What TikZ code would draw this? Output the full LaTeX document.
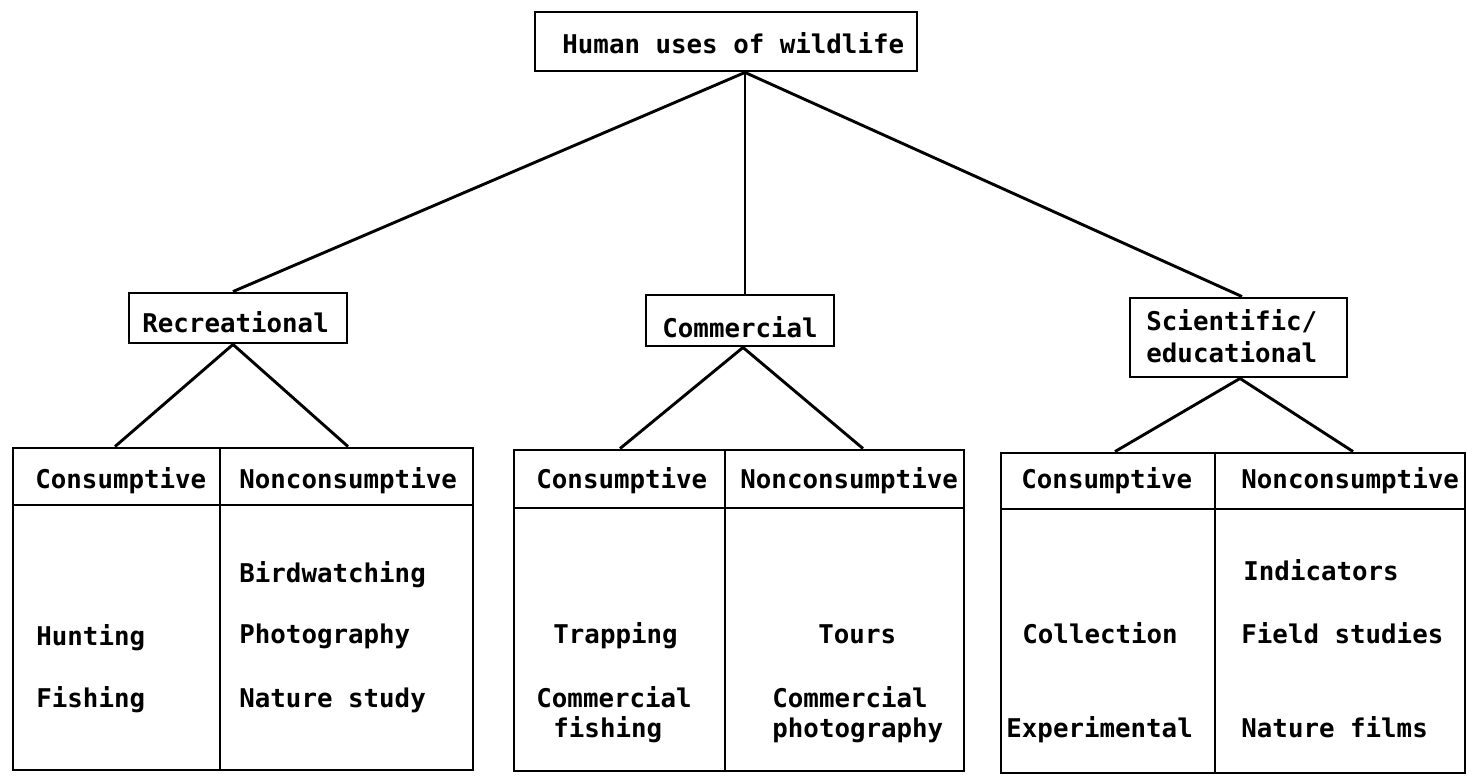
\documentclass[tikz,border=0pt]{standalone}
\usepackage{fontspec}
\newfontfamily\tw{DejaVu Sans Mono}
\usetikzlibrary{calc}
\begin{document}
\begin{tikzpicture}[x=0.5pt,y=-0.5pt,
  frame/.style={draw,line width=1.45pt,inner sep=0pt},
  link/.style={line width=1.45pt},
  txt/.style={font=\tw\bfseries\fontsize{12.9pt}{15.5pt}\selectfont,inner sep=0pt,anchor=base west}]
\useasboundingbox (0,0) rectangle (1476,777);
% top level boxes
\node[frame,minimum width=191pt,minimum height=29.5pt] (top) at (726,41.5) {};
\node[frame,minimum width=109pt,minimum height=25pt] (rec) at (238,318) {};
\node[frame,minimum width=94pt,minimum height=25.5pt] (com) at (740,320.5) {};
\node[frame,minimum width=108.5pt,minimum height=39.5pt] (sci) at (1238.5,337.5) {};
\node[txt] (ttop) at (562,53) {Human uses of wildlife};
\node[txt] (trec) at (142,332) {Recreational};
\node[txt] (tcom) at (662,337) {Commercial};
\node[txt] (tsci1) at (1146,330) {Scientific/};
\node[txt] (tsci2) at (1146,362) {educational};
% tables: recreational
\node[frame,minimum width=103.5pt,minimum height=28.5pt] (hL1) at (116.5,476.5) {};
\node[frame,minimum width=126.5pt,minimum height=28.5pt] (hR1) at (346.5,476.5) {};
\node[frame,minimum width=103.5pt,minimum height=132.5pt] (bL1) at (116.5,637.5) {};
\node[frame,minimum width=126.5pt,minimum height=132.5pt] (bR1) at (346.5,637.5) {};
% commercial
\node[frame,minimum width=105.5pt,minimum height=29pt] (hL2) at (619.5,479) {};
\node[frame,minimum width=119.5pt,minimum height=29pt] (hR2) at (844.5,479) {};
\node[frame,minimum width=105.5pt,minimum height=131.5pt] (bL2) at (619.5,639.5) {};
\node[frame,minimum width=119.5pt,minimum height=131.5pt] (bR2) at (844.5,639.5) {};
% scientific
\node[frame,minimum width=107pt,minimum height=28pt] (hL3) at (1108,481) {};
\node[frame,minimum width=125pt,minimum height=28pt] (hR3) at (1340,481) {};
\node[frame,minimum width=107pt,minimum height=132pt] (bL3) at (1108,641) {};
\node[frame,minimum width=125pt,minimum height=132pt] (bR3) at (1340,641) {};
% header texts
\node[txt] (c1) at (35,488) {Consumptive};
\node[txt] (n1) at (239,488) {Nonconsumptive};
\node[txt] (c2) at (536,488) {Consumptive};
\node[txt] (n2) at (740,488) {Nonconsumptive};
\node[txt] (c3) at (1021,488) {Consumptive};
\node[txt] (n3) at (1241,488) {Nonconsumptive};
% body texts
\node[txt] (r1) at (36,645) {Hunting};
\node[txt] (r2) at (36,707) {Fishing};
\node[txt] (r3) at (239,582) {Birdwatching};
\node[txt] (r4) at (239,643) {Photography};
\node[txt] (r5) at (239,707) {Nature study};
\node[txt] (m1) at (553,643) {Trapping};
\node[txt] (m2) at (536,707) {Commercial};
\node[txt] (m3) at (553,737) {fishing};
\node[txt] (m4) at (818,643) {Tours};
\node[txt] (m5) at (772,707) {Commercial};
\node[txt] (m6) at (772,737) {photography};
\node[txt] (s1) at (1022,643) {Collection};
\node[txt] (s2) at (1006,737) {Experimental};
\node[txt] (s3) at (1243,580) {Indicators};
\node[txt] (s4) at (1241,643) {Field studies};
\node[txt] (s5) at (1241,737) {Nature films};
% connectors
\coordinate (apex) at ($(top.south)+(19,0)$);
\draw[link] (apex) -- ($(rec.north)+(-5,0)$);
\draw[link] (apex) -- (apex |- com.north);
\draw[link] (apex) -- ($(sci.north)+(3.5,0)$);
\draw[link] ($(rec.south)+(-5,0)$) -- ($(hL1.north)+(-1.5,0)$);
\draw[link] ($(rec.south)+(-5,0)$) -- ($(hR1.north)+(1.5,0)$);
\draw[link] ($(com.south)+(3,0)$) -- ($(hL2.north)+(0.5,0)$);
\draw[link] ($(com.south)+(3,0)$) -- ($(hR2.north)+(18.5,0)$);
\draw[link] ($(sci.south)+(1.5,0)$) -- ($(hL3.north)+(7,0)$);
\draw[link] ($(sci.south)+(1.5,0)$) -- ($(hR3.north)+(13,0)$);
\end{tikzpicture}
\end{document}
